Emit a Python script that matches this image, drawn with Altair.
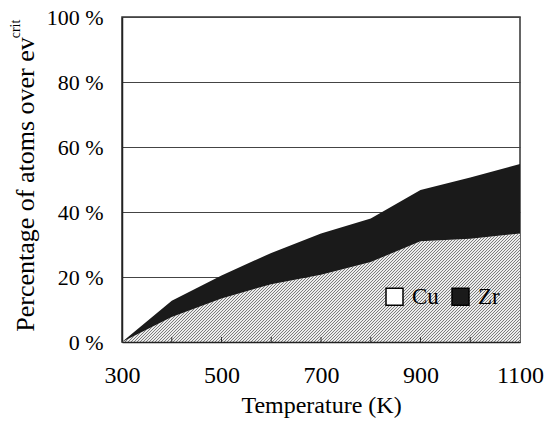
import altair as alt
import pandas as pd

# Percentage of atoms whose energy exceeds ev_crit, per element, vs temperature
temperature = [300, 400, 500, 600, 700, 800, 900, 1000, 1100]
cu_pct = [0.0, 7.7, 13.4, 17.8, 20.7, 24.6, 31.0, 31.8, 33.4]
zr_pct = [0.0, 5.0, 7.1, 9.6, 12.7, 13.4, 15.8, 18.8, 21.4]
series = ["Cu", "Zr"]

x_ticks = [300, 400, 500, 600, 700, 800, 900, 1000, 1100]
y_ticks = [0, 20, 40, 60, 80, 100]

df = pd.DataFrame({"T": temperature, "Cu": cu_pct, "Zr": zr_pct})
df["Total"] = df["Cu"] + df["Zr"]

W, H = 398, 325
FONT = "Liberation Serif"
ZR_COLOR = "#1a1a1a"

# Diagonal hatch for the Cu band: a hard-stop linear gradient laid out in the
# area's bounding box so that the stripes run at 45 degrees with a 3 px pitch.
band_w = float(W)
band_h = H * max(cu_pct) / 100.0
pitch = 3.0
n_stripes = int((band_w + band_h) / pitch) + 1
inv_h, inv_w = 1.0 / band_h, 1.0 / band_w
s = (inv_h + inv_w) / (inv_h ** 2 + inv_w ** 2)
s *= n_stripes * pitch / (band_w + band_h)
gx, gy = s * inv_h, s * inv_w

stops = []
for k in range(n_stripes):
    a = k / n_stripes
    m = (k + 0.5) / n_stripes
    b = (k + 1) / n_stripes
    stops += [
        alt.GradientStop(offset=a, color="#7c7c7c"),
        alt.GradientStop(offset=m, color="#7c7c7c"),
        alt.GradientStop(offset=m, color="#ececec"),
        alt.GradientStop(offset=b, color="#ececec"),
    ]
hatch = alt.LinearGradient(gradient="linear", stops=stops, x1=0, y1=0, x2=gx, y2=gy)

x_enc = alt.X(
    "T:Q",
    scale=alt.Scale(domain=[300, 1100], nice=False, zero=False),
    axis=alt.Axis(
        values=x_ticks,
        format="d",
        labelExpr="datum.value % 200 == 100 ? datum.label : ''",
        labelFlush=False,
        grid=False,
        ticks=False,
        tickSize=0,
        labelPadding=21,
        labelFont=FONT,
        labelFontSize=24,
        labelColor="black",
        domainColor="#222222",
        domainWidth=1.5,
        title="Temperature (K)",
        titleFont=FONT,
        titleFontSize=24,
        titleFontWeight="normal",
        titleColor="black",
        titleBaseline="alphabetic",
        titleY=70,
        zindex=1,
    ),
)

y_scale = alt.Scale(domain=[0, 100], nice=False)
y_axis = alt.Axis(
    values=y_ticks,
    labelExpr="datum.value + ' %'",
    ticks=False,
    tickSize=0,
    labelPadding=19,
    labelFont=FONT,
    labelFontSize=22,
    labelColor="black",
    grid=True,
    gridColor="#444444",
    gridWidth=1,
    domainColor="#222222",
    domainWidth=1.5,
    title="Percentage of atoms over ev",
    titleFont=FONT,
    titleFontSize=26,
    titleFontWeight="normal",
    titleColor="black",
    titleAngle=270,
    titleAlign="center",
    titleBaseline="alphabetic",
    titleX=-89,
    titleY=167,
)

base = alt.Chart(df)

cu_area = base.mark_area(color=hatch, interpolate="linear").encode(
    x=x_enc,
    y=alt.Y("Cu:Q", scale=y_scale, axis=y_axis),
)

zr_area = base.mark_area(color=ZR_COLOR, interpolate="linear").encode(
    x="T:Q",
    y="Total:Q",
    y2="Cu:Q",
)

# Invisible points that carry the Cu / Zr legend
legend_layer = (
    base.transform_fold(["Cu", "Zr"], as_=["Series", "Pct"])
    .mark_point(shape="square", filled=True, opacity=0)
    .encode(
        x="T:Q",
        y="Pct:Q",
        color=alt.Color(
            "Series:N",
            scale=alt.Scale(domain=series, range=["white", ZR_COLOR]),
            legend=alt.Legend(
                orient="none",
                legendX=261,
                legendY=268,
                direction="horizontal",
                title=None,
                symbolType="square",
                symbolSize=289,
                symbolOpacity=1,
                symbolStrokeColor="black",
                symbolStrokeWidth=1.5,
                labelFont=FONT,
                labelFontSize=23,
                labelColor="black",
                labelOffset=6,
                columnPadding=10,
                padding=0,
            ),
        ),
    )
)

# Small inward tick marks along the temperature axis
tick_rules = (
    alt.Chart(pd.DataFrame({"T": x_ticks[1:-1]}))
    .mark_rule(color="#333333", strokeWidth=1)
    .encode(x="T:Q", y=alt.value(H - 5), y2=alt.value(H))
)

# Superscript on the y-axis title
crit_label = (
    alt.Chart(pd.DataFrame({"t": ["crit"]}))
    .mark_text(font=FONT, fontSize=14, angle=270, color="black", align="center", baseline="middle")
    .encode(text="t:N", x=alt.value(-106), y=alt.value(12))
)

chart = (
    alt.layer(legend_layer, cu_area, zr_area, tick_rules, crit_label)
    .properties(
        width=W,
        height=H,
        autosize=alt.AutoSizeParams(type="none"),
        padding={"left": 122, "top": 17, "right": 27, "bottom": 80},
        background="white",
    )
    .configure(font=FONT)
    .configure_view(stroke="#333333", strokeWidth=1.5)
)

chart.save("out.html", embed_options={"renderer": "svg", "actions": False})
